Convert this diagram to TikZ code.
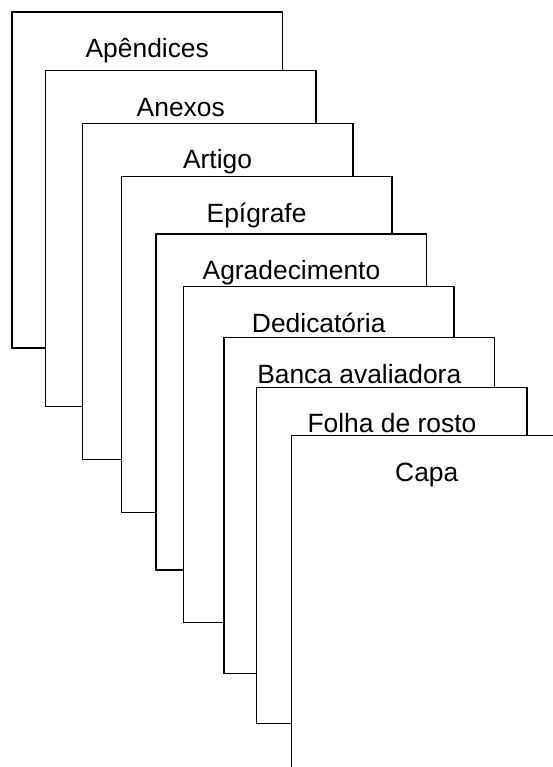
\documentclass[tikz,border=0pt]{standalone}
\usepackage{fontspec}
\setmainfont{Liberation Sans}

\begin{document}
\begin{tikzpicture}[
        %We work in pixel units with y pointing down
        x=1pt, y=-1pt,
        page/.style={draw, fill=white, line width=1.5pt,
            minimum width=270.5pt, minimum height=336pt,
            inner sep=0pt, outer sep=0pt},
        page title/.style={anchor=base, font=\fontsize{26.4}{30}\selectfont}
     ]
    % The sheet is cut to the canvas
    \clip (0,0) rectangle (553,767);
    % Pages are stacked from the back to the front
    \foreach \i/\l/\t/\name in {
        1/12/12/Apêndices,
        2/45.5/70.7/Anexos,
        3/82.3/123.3/Artigo,
        4/121.3/176.7/Epígrafe,
        5/156.2/234/Agradecimento,
        6/183.5/286.7/Dedicatória,
        7/224/337.7/Banca avaliadora,
        8/256.7/387.3/Folha de rosto,
        9/291.5/435.7/Capa}
    {
        \node[page] (p\i) at (\l+135.25, \t+168) {};
        % title near the top edge
        \node[page title] (t\i) at ([yshift=-45.5pt]p\i.north) {\name};
    }
\end{tikzpicture}
\end{document}
